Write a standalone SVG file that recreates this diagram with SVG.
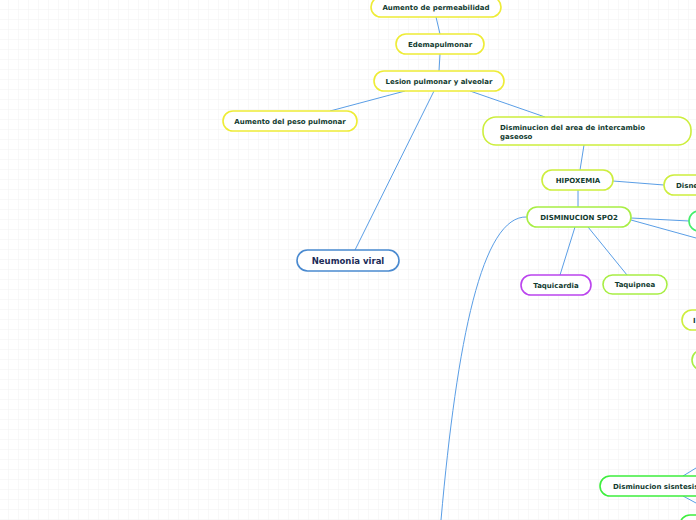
<svg xmlns="http://www.w3.org/2000/svg" width="696" height="520" viewBox="0 0 696 520">
<defs>
<pattern id="grid" x="8" y="9" width="10" height="10" patternUnits="userSpaceOnUse">
<path d="M0,0 H10 M0,0 V10" fill="none" stroke="#f1f1f1" stroke-width="1"/>
</pattern>
<style>
.n rect{fill:#fff;stroke-width:1.6}
.t{font-family:"DejaVu Sans",Verdana,sans-serif;font-weight:bold;font-size:7px;fill:#123b30}
.c{text-anchor:middle}
.y rect{stroke:#eeec36}
.yg rect{stroke:#cdee3e}
.g rect{stroke:#a8ee44}
.gr rect{stroke:#44ee6a}
.gg rect{stroke:#3eee3e}
.p rect{stroke:#bb44ee}
.links path{fill:none;stroke:#5a9ee6;stroke-width:1}
</style>
</defs>
<rect width="696" height="520" fill="#fff"/>
<rect width="696" height="520" fill="url(#grid)"/>
<g class="links">
<path d="M436,17 L440,34"/>
<path d="M440,54 L439,71"/>
<path d="M405,91 L330,111"/>
<path d="M470,91 L545,117"/>
<path d="M434,91 L355,250"/>
<path d="M584,145 L580,170"/>
<path d="M613,181 L664,185"/>
<path d="M578,190 L578,207"/>
<path d="M631,218 L689,221"/>
<path d="M631,220 L696,238"/>
<path d="M575,227 L560,275"/>
<path d="M588,227 L627,275"/>
<path d="M527,217 C482,215 457,340 441,520"/>
<path d="M683,476 L696,468"/>
<path d="M683,496 L696,503"/>
</g>
<g id="n-permeabilidad" class="n y"><rect x="371" y="-3" width="130" height="20" rx="10"/><text class="t c" x="436" y="9.5">Aumento de permeabilidad</text></g>
<g id="n-edema" class="n y"><rect x="396" y="34" width="88" height="20" rx="10"/><text class="t c" x="440" y="46.5">Edemapulmonar</text></g>
<g id="n-lesion" class="n y"><rect x="374" y="71" width="130" height="20" rx="10"/><text class="t c" x="439" y="83.5">Lesion pulmonar y alveolar</text></g>
<g id="n-peso" class="n y"><rect x="223" y="111" width="134" height="20" rx="10"/><text class="t c" x="290" y="123.5">Aumento del peso pulmonar</text></g>
<g id="n-area" class="n yg"><rect x="483" y="117" width="208" height="28" rx="13"/><text class="t" x="500" y="130">Disminucion del area de intercambio</text><text class="t" x="500" y="139">gaseoso</text></g>
<g id="n-hipoxemia" class="n yg"><rect x="542" y="170" width="71" height="20" rx="10"/><text class="t c" x="578" y="182.5">HIPOXEMIA</text></g>
<g id="n-disnea" class="n yg"><rect x="664" y="175" width="60" height="20" rx="10"/><text class="t" x="676" y="187.5">Disnea</text></g>
<g id="n-spo2" class="n g"><rect x="527" y="207" width="104" height="20" rx="10"/><text class="t c" x="579" y="219.5">DISMINUCION SPO2</text></g>
<g id="n-right1" class="n gr"><rect x="689" y="211" width="40" height="20" rx="10"/></g>
<g id="n-taquicardia" class="n p"><rect x="521" y="275" width="70" height="20" rx="10"/><text class="t c" x="556" y="287.5">Taquicardia</text></g>
<g id="n-taquipnea" class="n g"><rect x="603" y="275" width="64" height="19" rx="9.5"/><text class="t c" x="635" y="287">Taquipnea</text></g>
<g id="n-neumonia" class="n"><rect x="297" y="250" width="102" height="21" rx="10.5" style="stroke:#4a8ad0"/><text class="t c" x="348" y="263.5" style="font-size:8.5px;fill:#1b2b58">Neumonia viral</text></g>
<g id="n-right2" class="n yg"><rect x="682" y="310" width="40" height="20" rx="10"/><text class="t" x="693" y="322.5">I</text></g>
<g id="n-right3" class="n g"><rect x="692" y="350" width="40" height="20" rx="10"/></g>
<g id="n-sintesis" class="n gg"><rect x="600" y="476" width="130" height="20" rx="10"/><text class="t" x="613" y="488.5">Disminucion sisntesis</text></g>
<g id="n-right4" class="n gg"><rect x="680" y="515" width="40" height="20" rx="10"/></g>
</svg>
